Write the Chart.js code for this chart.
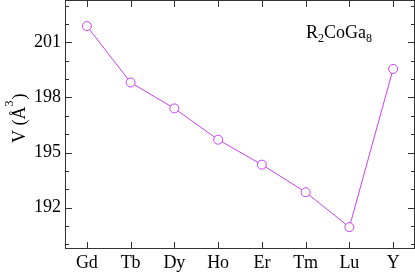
<!DOCTYPE html>
<html>
<head>
<meta charset="utf-8">
<script src="https://cdn.jsdelivr.net/npm/chart.js@4"></script>
<style>
  html, body { margin: 0; padding: 0; background: #fff; overflow: hidden; }
  #wrap { width: 415px; height: 275px; }
</style>
</head>
<body>
<div id="wrap"><canvas id="volChart"></canvas></div>
<script>
const elements = ['Gd', 'Tb', 'Dy', 'Ho', 'Er', 'Tm', 'Lu', 'Y'];
const volumes = [201.88, 198.81, 197.40, 195.70, 194.34, 192.84, 190.94, 199.55];
const yTicks = [192, 195, 198, 201];

const lineColor = '#cc3ff2';
const serif = '"Liberation Serif", "DejaVu Serif", serif';

// frame, inward ticks, axis title and the compound label
const framePlugin = {
    id: 'frame',
    afterDraw(chart) {
        const ctx = chart.ctx;
        const area = chart.chartArea;
        const xs = chart.scales.x;
        const ys = chart.scales.y;
        ctx.save();
        ctx.strokeStyle = '#333';
        ctx.lineWidth = 1;
        ctx.strokeRect(Math.round(area.left) + 0.5, Math.round(area.top) + 0.5,
            Math.round(area.right - area.left) - 1, Math.round(area.bottom - area.top) - 1);

        ctx.beginPath();
        elements.forEach((el, i) => {
            const px = Math.round(xs.getPixelForValue(i)) + 0.5;
            ctx.moveTo(px, area.bottom);
            ctx.lineTo(px, area.bottom - 7);
            ctx.moveTo(px, area.top);
            ctx.lineTo(px, area.top + 7);
        });
        for (let v = Math.ceil(ys.min); v <= ys.max; v++) {
            const py = Math.round(ys.getPixelForValue(v)) + 0.5;
            const len = yTicks.includes(v) ? 7 : 4;
            ctx.moveTo(area.left, py);
            ctx.lineTo(area.left + len, py);
            ctx.moveTo(area.right, py);
            ctx.lineTo(area.right - len, py);
        }
        ctx.stroke();

        // y axis title: V (Å³)
        ctx.fillStyle = '#000';
        ctx.translate(25, 143);
        ctx.rotate(-Math.PI / 2);
        ctx.font = '18px ' + serif;
        ctx.textBaseline = 'alphabetic';
        ctx.textAlign = 'left';
        let x = 0;
        ctx.fillText('V (Å', x, 0);
        x += ctx.measureText('V (Å').width;
        ctx.font = '12px ' + serif;
        ctx.fillText('3', x, -12);
        x += ctx.measureText('3').width + 1;
        ctx.font = '18px ' + serif;
        ctx.fillText(')', x, 0);
        ctx.restore();

        // compound label R2CoGa8
        ctx.save();
        ctx.fillStyle = '#000';
        ctx.textBaseline = 'alphabetic';
        const parts = [['R', false], ['2', true], ['CoGa', false], ['8', true]];
        let lx = 306;
        const base = 38;
        parts.forEach(([t, sub]) => {
            ctx.font = (sub ? '12px ' : '18px ') + serif;
            ctx.fillText(t, lx, sub ? base + 4 : base);
            lx += ctx.measureText(t).width;
        });
        ctx.restore();
    }
};

const ctx = document.getElementById('volChart').getContext('2d');
new Chart(ctx, {
    type: 'line',
    data: {
        labels: elements,
        datasets: [{
            data: volumes,
            borderColor: lineColor,
            borderWidth: 1,
            backgroundColor: '#fff',
            pointBorderColor: lineColor,
            pointBackgroundColor: '#fff',
            pointBorderWidth: 1,
            pointRadius: 4.5,
            tension: 0
        }]
    },
    options: {
        responsive: true,
        maintainAspectRatio: false,
        animation: false,
        events: [],
        layout: { padding: 0, autoPadding: false },
        plugins: {
            legend: { display: false },
            tooltip: { enabled: false }
        },
        scales: {
            x: {
                type: 'category',
                offset: true,
                grid: { display: false, drawTicks: false },
                border: { display: false },
                ticks: {
                    color: '#000',
                    font: { family: serif, size: 18 },
                    padding: 3,
                    maxRotation: 0
                },
                afterFit(scale) {
                    scale.height = 26;
                    scale.paddingLeft = 0;
                    scale.paddingRight = 0;
                }
            },
            y: {
                min: 189.75,
                max: 203.3,
                grid: { display: false, drawTicks: false },
                border: { display: false },
                ticks: {
                    color: '#000',
                    font: { family: serif, size: 18 },
                    padding: 4
                },
                afterBuildTicks(scale) {
                    scale.ticks = yTicks.map(v => ({ value: v }));
                },
                afterFit(scale) {
                    scale.width = 65;
                    scale.paddingTop = 0;
                    scale.paddingBottom = 0;
                }
            }
        }
    },
    plugins: [framePlugin]
});
</script>
</body>
</html>
